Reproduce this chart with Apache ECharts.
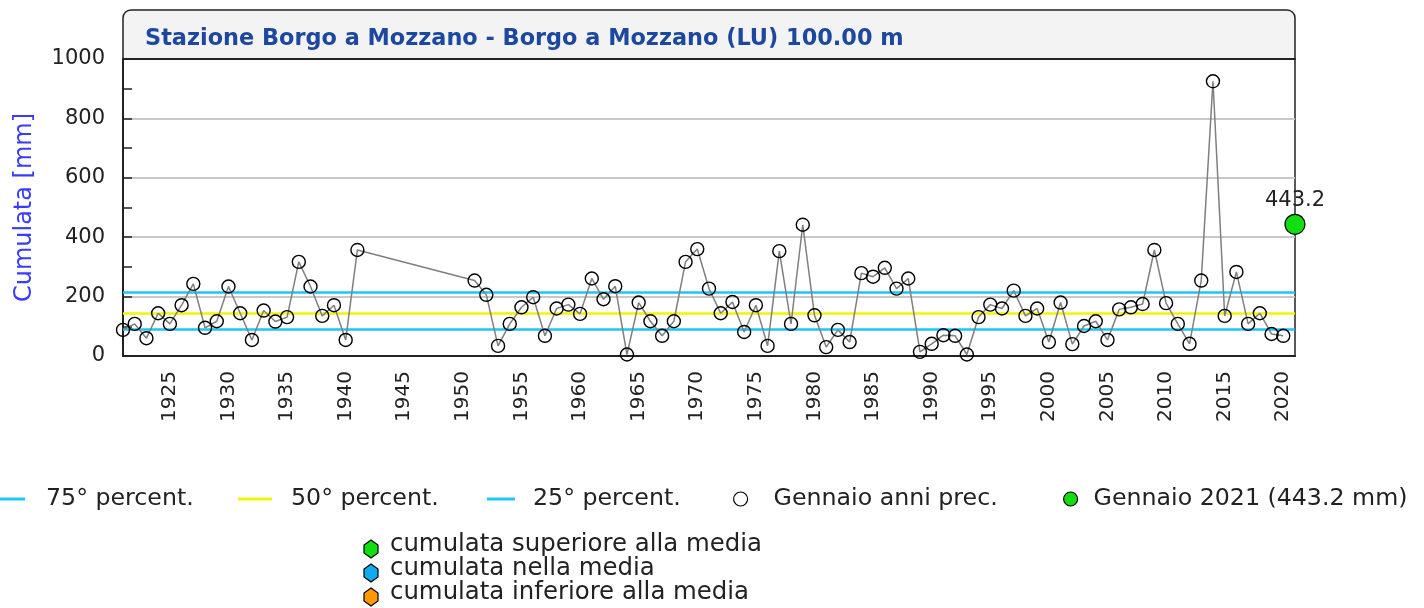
<!DOCTYPE html>
<html>
<head>
<meta charset="utf-8">
<script src="https://cdn.jsdelivr.net/npm/echarts@6/dist/echarts.min.js"></script>
<style>
html,body{margin:0;padding:0;background:#fff;}
#chart{width:1424px;height:608px;}
</style>
</head>
<body>
<div id="chart"></div>
<script>
// ---- DATA ----
const titleText = 'Stazione Borgo a Mozzano - Borgo a Mozzano (LU) 100.00 m';
const years = [];
for (let y = 1921; y <= 2021; y++) years.push(String(y));
// January cumulated precipitation (mm), previous years; null = missing
const janValues = [
  88,108,60,144,108,171,243,95,117,234,      // 1921-1930
  144,54,153,116,131,317,234,135,171,54,     // 1931-1940
  357,null,null,null,null,null,null,null,null,null, // 1941-1950
  254,206,34,108,164,198,68,160,173,142,     // 1951-1960
  261,191,235,5,180,117,68,117,317,360,      // 1961-1970
  227,144,182,81,171,34,353,108,442,137,     // 1971-1980
  30,88,47,279,267,297,227,261,14,41,        // 1981-1990
  70,68,5,131,173,160,220,135,160,47,        // 1991-2000
  180,40,101,117,54,157,164,175,357,178,     // 2001-2010
  108,41,254,925,135,283,108,144,74,68,      // 2011-2020
  null                                       // 2021 (shown separately)
];
const currentYear = '2021';
const currentValue = 443.2;
const percentiles = { p75: 213, p50: 144, p25: 90 };
const legendNames = ['75° percent.', '50° percent.', '25° percent.', 'Gennaio anni prec.', 'Gennaio 2021 (443.2 mm)'];
const classLabels = ['cumulata superiore alla media', 'cumulata nella media', 'cumulata inferiore alla media'];
const classColors = ['#11dd11', '#11aaee', '#ff9900'];
const yTicks = { min: 0, max: 1000, interval: 200 };

// ---- CHART ----
const chart = echarts.init(document.getElementById('chart'), null, { renderer: 'canvas' });
const cyan = '#1ec6f6', yellow = '#f4f400';
const FONT = 'DejaVu Sans';

const curData = years.map(y => y === currentYear ? currentValue : null);

function pctSeries(name, val, color) {
  return {
    name, type: 'line', data: [], itemStyle: { color },
    markLine: {
      silent: true, symbol: 'none', label: { show: false },
      lineStyle: { color, width: 2.5, type: 'solid' },
      data: [{ yAxis: val }], z: 2
    }
  };
}

const legendText = { fontFamily: FONT, fontSize: 23.7, color: '#222', lineHeight: 24 };
function lineLegend(name, color, left, width, pad) {
  return {
    left, top: 487, padding: 0, itemWidth: width, itemHeight: 3, icon: 'rect',
    data: [{ name, itemStyle: { color } }],
    textStyle: Object.assign({ padding: [0, 0, 0, pad] }, legendText),
    selectedMode: false
  };
}

const graphics = [
  { type: 'rect', z: -1, shape: { x: 123, y: 10, width: 1172, height: 49, r: [8, 8, 0, 0] },
    style: { fill: '#f3f3f3', stroke: '#222', lineWidth: 1.5 } },
  { type: 'line', z: 10, shape: { x1: 123, y1: 59, x2: 1295, y2: 59 }, style: { stroke: '#222', lineWidth: 2 } }
];
classLabels.forEach((t, i) => {
  const cy = 549 + i * 24, cx = 371;
  graphics.push({ type: 'polygon', shape: { points: [[cx, cy - 9], [cx + 7, cy - 4], [cx + 7, cy + 4], [cx, cy + 9], [cx - 7, cy + 4], [cx - 7, cy - 4]] },
    style: { fill: classColors[i], stroke: '#000', lineWidth: 1.2 } });
  graphics.push({ type: 'text', x: 390, y: 545 + i * 24,
    style: { text: t, font: '24.4px "DejaVu Sans"', fill: '#222', textVerticalAlign: 'middle' } });
});

const option = {
  backgroundColor: '#fff',
  animation: false,
  title: {
    text: titleText, left: 145, top: 28, padding: 0,
    textStyle: { fontFamily: FONT, fontWeight: 'bold', fontSize: 22.4, color: '#1c48a0' }
  },
  grid: { left: 123, right: 129, top: 59, bottom: 252, show: true, borderColor: '#222', borderWidth: 1.5 },
  xAxis: {
    type: 'category', data: years, boundaryGap: false,
    axisLine: { lineStyle: { color: '#222', width: 2 } },
    axisTick: { show: false },
    axisLabel: {
      rotate: 90, margin: 15, fontFamily: FONT, fontSize: 20, color: '#222',
      interval: (idx, val) => Number(val) % 5 === 0
    },
    splitLine: { show: false }
  },
  yAxis: {
    type: 'value', min: yTicks.min, max: yTicks.max, interval: yTicks.interval,
    name: 'Cumulata [mm]', nameLocation: 'middle', nameGap: 86,
    nameTextStyle: { fontFamily: FONT, fontSize: 24, color: '#3b3bff' },
    axisLine: { show: true, lineStyle: { color: '#222', width: 2 } },
    axisTick: { show: true, inside: true, length: 9, lineStyle: { color: '#222', width: 1.5 } },
    minorTick: { show: true, splitNumber: 2, length: 9, lineStyle: { color: '#222', width: 1.5 } },
    axisLabel: { margin: 18, fontFamily: FONT, fontSize: 21, color: '#222', formatter: v => String(v) },
    splitLine: { show: true, lineStyle: { color: '#c8c8c8', width: 2 } }
  },
  legend: [
    lineLegend(legendNames[0], cyan, -3, 28, 16),
    lineLegend(legendNames[1], yellow, 238, 34, 14),
    lineLegend(legendNames[2], cyan, 487, 28, 13),
    {
      left: 733, top: 487, padding: 0, itemWidth: 14, itemHeight: 14, selectedMode: false,
      data: [{ name: legendNames[3], icon: 'circle', itemStyle: { color: '#fff', borderColor: '#000', borderWidth: 1.2 } }],
      textStyle: Object.assign({ padding: [0, 0, 0, 21] }, legendText)
    },
    {
      left: 1063, top: 487, padding: 0, itemWidth: 14, itemHeight: 14, selectedMode: false,
      data: [{ name: legendNames[4], icon: 'circle', itemStyle: { color: '#11dd11', borderColor: '#000', borderWidth: 1.2 } }],
      textStyle: Object.assign({ padding: [0, 0, 0, 11] }, legendText)
    }
  ],
  graphic: graphics,
  series: [
    pctSeries(legendNames[0], percentiles.p75, cyan),
    pctSeries(legendNames[1], percentiles.p50, yellow),
    pctSeries(legendNames[2], percentiles.p25, cyan),
    {
      name: legendNames[3], type: 'line', data: janValues, connectNulls: true, z: 5,
      symbol: 'circle', symbolSize: 13, showAllSymbol: true,
      lineStyle: { color: '#7f7f7f', width: 1.5 },
      itemStyle: { color: 'rgba(255,255,255,0)', borderColor: '#000', borderWidth: 1.4 }
    },
    {
      name: legendNames[4], type: 'line', data: curData, z: 6,
      symbol: 'circle', symbolSize: 20, showAllSymbol: true,
      lineStyle: { width: 0 },
      itemStyle: { color: '#11dd11', borderColor: '#000', borderWidth: 1.2 },
      label: { show: true, position: 'top', distance: 3, formatter: p => p.value == null ? '' : p.value.toFixed(1),
        fontFamily: FONT, fontSize: 21, color: '#222' }
    }
  ]
};
chart.setOption(option);
</script>
</body>
</html>
